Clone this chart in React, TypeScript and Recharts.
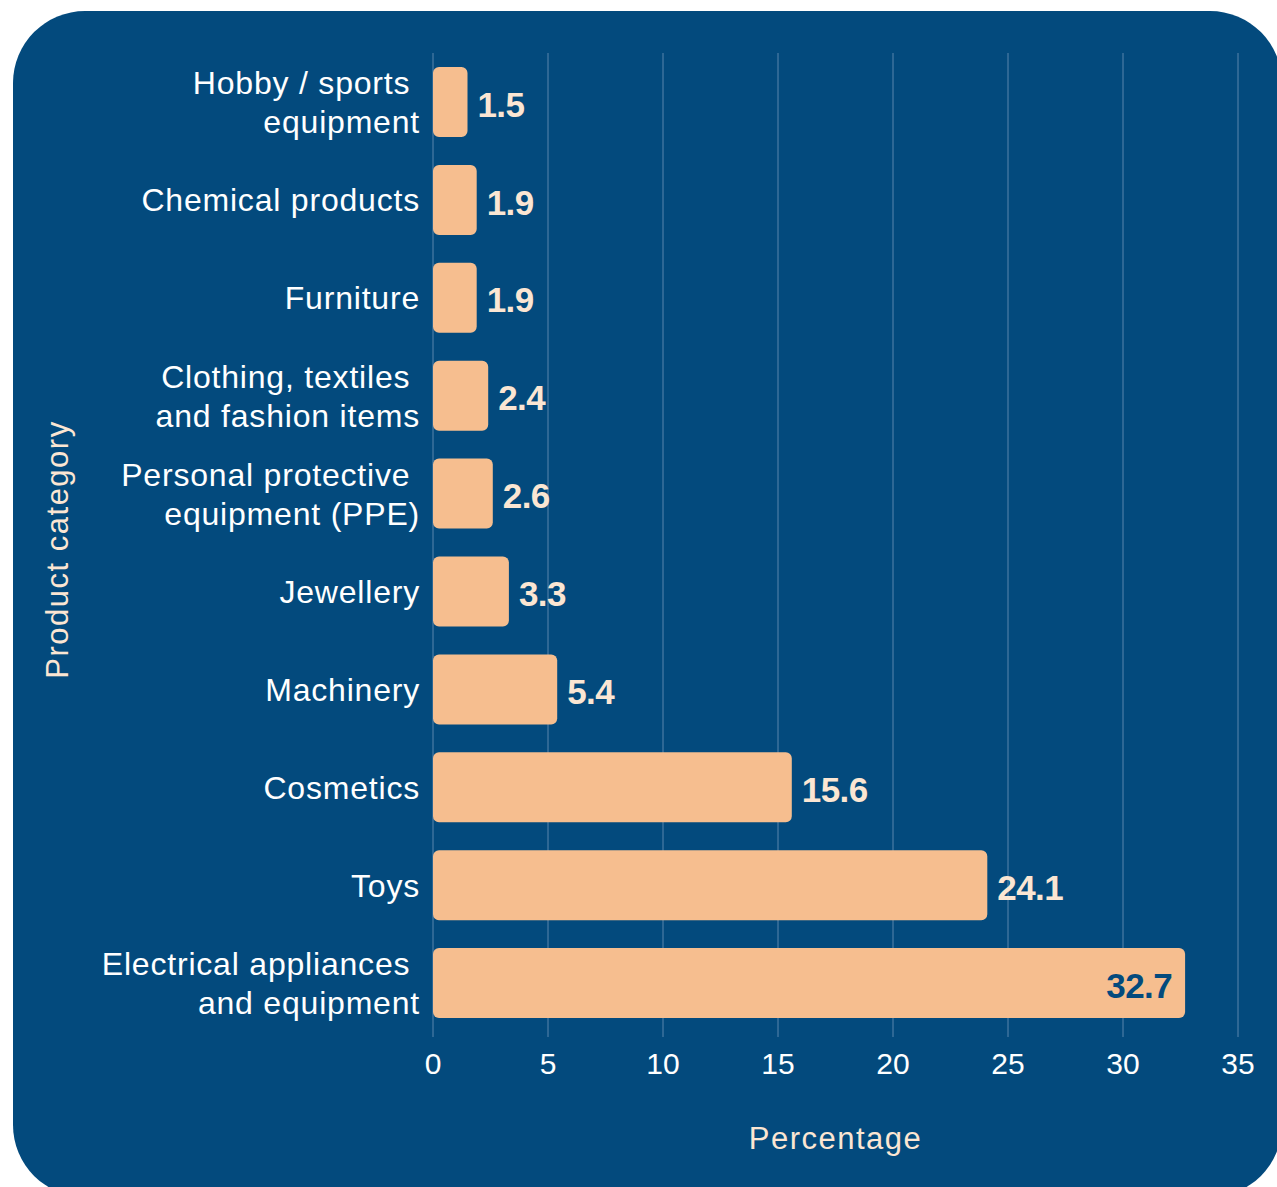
import React from "react";
import { Bar, BarChart, CartesianGrid, LabelList, XAxis, YAxis, Label } from "recharts";

const categories = [
  "Hobby / sports |equipment",
  "Chemical products",
  "Furniture",
  "Clothing, textiles |and fashion items",
  "Personal protective |equipment (PPE)",
  "Jewellery",
  "Machinery",
  "Cosmetics",
  "Toys",
  "Electrical appliances |and equipment",
];
const percentages = [1.5, 1.9, 1.9, 2.4, 2.6, 3.3, 5.4, 15.6, 24.1, 32.7];
const xTicks = [0, 5, 10, 15, 20, 25, 30, 35];

const data = categories.map((category, i) => ({ category, value: percentages[i] }));

const BLUE = "#034A7D";
const PEACH = "#F6BE8F";
const CREAM = "#FBE6D3";
const GRID = "#5B85AD";
const FONT = "'Liberation Sans', Arial, sans-serif";

const CategoryTick = (props: any) => {
  const { x, y, payload } = props;
  const lines = String(payload.value).split("|");
  const lh = 39;
  const start = y - ((lines.length - 1) * lh) / 2;
  return (
    <text
      x={x}
      y={start}
      textAnchor="end"
      fill="#FFFFFF"
      fontSize={32}
      fontFamily={FONT}
      letterSpacing={0.8}
      style={{ whiteSpace: "pre" }}
    >
      {lines.map((line, i) => (
        <tspan key={i} x={x} y={start + i * lh} dy="0.36em">
          {line}
        </tspan>
      ))}
    </text>
  );
};

const ValueLabel = (props: any) => {
  const { x, y, width, height, value } = props;
  const inside = value > 30;
  const cy = y + height / 2 + 2;
  return (
    <text
      x={inside ? x + width - 13 : x + width + 10}
      y={cy}
      dy="0.36em"
      textAnchor={inside ? "end" : "start"}
      fill={inside ? BLUE : CREAM}
      fontSize={35}
      fontWeight="bold"
      fontFamily={FONT}
      letterSpacing={-0.6}
    >
      {value}
    </text>
  );
};

export default function App() {
  return (
    <div
      style={{
        position: "fixed",
        left: 0,
        top: 0,
        width: 1277,
        height: 1187,
        overflow: "hidden",
        background: "#FFFFFF",
      }}
    >
      <div
        style={{
          position: "absolute",
          left: 13,
          top: 11,
          width: 1269,
          height: 1186,
          borderRadius: 72,
          background: BLUE,
        }}
      />
      <div style={{ position: "absolute", left: 0, top: 0 }}>
        <BarChart
          width={1277}
          height={1187}
          data={data}
          layout="vertical"
          margin={{ top: 53, right: 39, left: 0, bottom: 95 }}
          barSize={70}
        >
          <CartesianGrid horizontal={false} vertical stroke={GRID} strokeWidth={1} />
          <XAxis
            type="number"
            domain={[0, 35]}
            ticks={xTicks}
            axisLine={false}
            tickLine={{ stroke: GRID }}
            tickSize={5}
            tickMargin={16}
            height={60}
            tick={{ fill: "#FFFFFF", fontSize: 30, fontFamily: FONT }}
          >
            <Label
              content={(p: any) => {
                const vb = p.viewBox;
                return (
                  <text
                    x={vb.x + vb.width / 2}
                    y={1149}
                    textAnchor="middle"
                    fill={CREAM}
                    fontSize={31}
                    fontFamily={FONT}
                    letterSpacing={1.5}
                  >
                    Percentage
                  </text>
                );
              }}
            />
          </XAxis>
          <YAxis
            type="category"
            dataKey="category"
            width={433}
            axisLine={false}
            tickLine={false}
            tickSize={0}
            tickMargin={13}
            interval={0}
            tick={<CategoryTick />}
          >
            <Label
              content={(p: any) => {
                const vb = p.viewBox;
                const cy = vb.y + vb.height / 2 + 7;
                return (
                  <text
                    x={57}
                    y={cy}
                    dy="0.36em"
                    textAnchor="middle"
                    transform={`rotate(-90, 57, ${cy})`}
                    fill={CREAM}
                    fontSize={31}
                    fontFamily={FONT}
                    letterSpacing={1.5}
                  >
                    Product category
                  </text>
                );
              }}
            />
          </YAxis>
          <Bar dataKey="value" fill={PEACH} radius={6} isAnimationActive={false}>
            <LabelList dataKey="value" content={<ValueLabel />} />
          </Bar>
        </BarChart>
      </div>
    </div>
  );
}
